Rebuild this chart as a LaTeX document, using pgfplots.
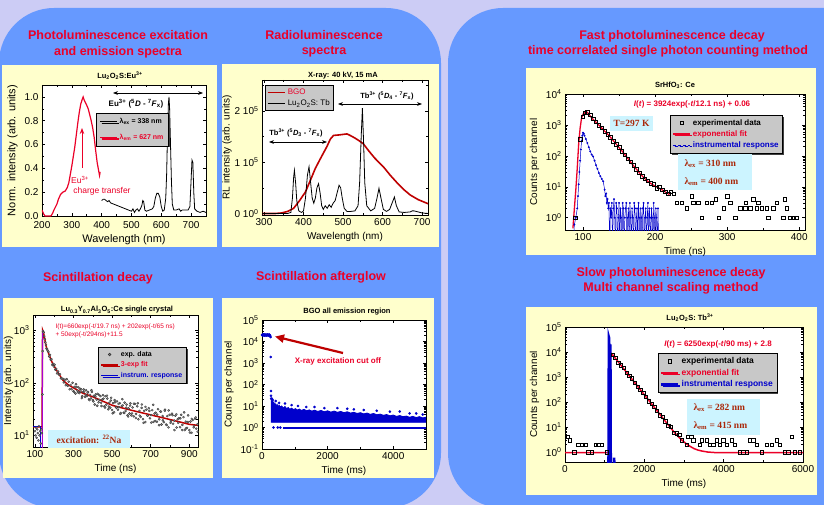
\documentclass[border=0pt]{standalone}
\usepackage{pgfplots}
\pgfplotsset{compat=1.18}
\usepackage{fontspec}
\setmainfont{Liberation Sans}
\newfontfamily\tnr{Liberation Serif}
\usetikzlibrary{shadows,arrows.meta}
\definecolor{lav}{RGB}{204,204,245}
\definecolor{pblue}{RGB}{102,153,255}
\definecolor{pyel}{RGB}{255,255,204}
\definecolor{tred}{RGB}{235,0,40}
\definecolor{cyanbox}{RGB}{204,244,255}
\definecolor{legray}{RGB}{200,200,200}
\definecolor{dred}{RGB}{170,40,10}
\definecolor{dblue}{RGB}{0,0,204}
\definecolor{fitred}{RGB}{190,0,0}
\definecolor{purp}{RGB}{170,0,210}
\pgfplotsset{
  base/.style={
    scale only axis, anchor=south west,
    axis line style={line width=0.8pt},
    tick style={black, line width=0.5pt},
    major tick length=3pt, minor tick length=1.6pt,
    tick label style={font=\fontsize{10}{11}\selectfont},
    label style={font=\fontsize{10}{11}\selectfont},
    axis background/.style={fill=white},
    /pgf/number format/assume math mode=true,
    /pgf/number format/1000 sep={},
    legend cell align=left,
  },
  lstyle/.style={fill=legray, draw=black, line width=0.6pt, inner sep=2pt, row sep=0pt,
    drop shadow={shadow xshift=1.5pt, shadow yshift=-1.5pt, fill=black!75, opacity=1}},
}
\newcommand{\ttl}{\fontsize{12.5}{14}\selectfont\bfseries\color{tred}}
\newcommand{\stl}{\fontsize{7.5}{9}\selectfont\bfseries}
\newcommand{\cbx}{\tnr\fontsize{9.5}{11}\selectfont\bfseries\color{dred}}
\begin{document}
\begin{tikzpicture}
\path[use as bounding box] (0,0) rectangle (824pt,-505pt);
\clip (0,0) rectangle (824pt,-505pt);
\fill[lav] (0,0) rectangle (824pt,-505pt);
\fill[pblue, rounded corners=55pt] (-1pt,-8pt) rectangle (441pt,-508pt);
\fill[pblue, rounded corners=55pt] (448pt,-8pt) rectangle (900pt,-508pt);
% yellow boxes
\fill[pyel] (2pt,-65pt) rectangle (217pt,-247pt);
\fill[pyel] (222pt,-64pt) rectangle (439pt,-247pt);
\fill[pyel] (526pt,-68pt) rectangle (816pt,-255pt);
\fill[pyel] (3pt,-298pt) rectangle (213pt,-478pt);
\fill[pyel] (222pt,-298pt) rectangle (434pt,-478pt);
\fill[pyel] (526pt,-307pt) rectangle (817pt,-495pt);
% panel titles
\node[font=\ttl] at (118pt,-35pt) {Photoluminescence excitation};
\node[font=\ttl] at (118pt,-52pt) {and emission spectra};
\node[font=\ttl] at (324pt,-35pt) {Radioluminescence};
\node[font=\ttl] at (324pt,-52pt) {spectra};
\node[font=\ttl] at (672pt,-36pt) {Fast photoluminescence decay};
\node[font=\ttl] at (668pt,-51pt) {time correlated single photon counting method};
\node[font=\ttl] at (98pt,-278pt) {Scintillation decay};
\node[font=\ttl] at (321pt,-277pt) {Scintillation afterglow};
\node[font=\ttl] at (671pt,-273pt) {Slow photoluminescence decay};
\node[font=\ttl] at (671pt,-288pt) {Multi channel scaling method};

% ---------------- Panel 1
\begin{axis}[base, at={(42pt,-216pt)}, width=164pt, height=131pt,
  xmin=200, xmax=750, ymin=0, ymax=1.1,
  xtick={200,300,400,500,600,700}, minor x tick num=1,
  ytick={0,0.2,0.4,0.6,0.8,1.0}, minor y tick num=1,
  yticklabel style={/pgf/number format/.cd,fixed,fixed zerofill,precision=1},
  xticklabel style={yshift=-1.5pt},
  label style={font=\fontsize{11}{12}\selectfont},
  xlabel={Wavelength (nm)}, ylabel={Norm. intensity (arb. units)},
  legend style={lstyle, at={(0.33,0.786)}, anchor=north west, font=\fontsize{7}{8}\selectfont\bfseries, row sep=5pt, inner sep=3pt}]
\addplot[tred, line width=1.2pt, forget plot] coordinates {
(200,0.05) (205,0.02) (210,0.0) (220,0.0) (230,0.0) (235,0.02) (240,0.05) (250,0.1) (255,0.14) (262,0.18)
(270,0.2) (278,0.21) (285,0.24) (290,0.28) (295,0.35) (300,0.42) (305,0.5) (310,0.58) (315,0.68) (320,0.78)
(325,0.87) (330,0.94) (335,0.98) (338,1.0) (342,0.97) (346,0.95) (350,0.93) (355,0.9) (360,0.85) (365,0.8)
(370,0.74) (375,0.66) (380,0.55) (385,0.45) (390,0.38) (393,0.34) (395,0.37)};
\addplot[black, line width=0.8pt, forget plot] coordinates {
(400,0.13) (405,0.14) (410,0.14) (415,0.13) (420,0.12) (425,0.13) (430,0.11) (440,0.1) (450,0.09) (460,0.08)
(470,0.07) (480,0.06) (490,0.05) (500,0.04) (505,0.06) (510,0.03) (515,0.05) (520,0.06) (525,0.04) (530,0.06)
(535,0.09) (538,0.13) (541,0.12) (545,0.05) (550,0.04) (560,0.05) (570,0.06) (575,0.08) (580,0.15) (585,0.19)
(590,0.19) (595,0.16) (600,0.08) (605,0.04) (610,0.05) (615,0.15) (618,0.35) (621,0.7) (624,0.95) (626,1.0)
(628,0.9) (631,0.6) (634,0.3) (637,0.1) (642,0.05) (650,0.05) (660,0.06) (665,0.04) (670,0.05) (680,0.05)
(690,0.05) (696,0.08) (700,0.3) (703,0.47) (706,0.45) (709,0.2) (712,0.06) (720,0.04) (730,0.03) (740,0.04) (750,0.03)};
\addlegendimage{black, line width=0.8pt}
\addlegendentry{λ\textsubscript{ex} = 338 nm}
\addlegendimage{tred, line width=1.2pt}
\addlegendentry{\textcolor{tred}{λ\textsubscript{em} = 627 nm}}
\end{axis}
\node[font=\stl] at (120pt,-76pt) {Lu\textsubscript{2}O\textsubscript{2}S:Eu\textsuperscript{3+}};
\draw[{Stealth[length=5pt]}-{Stealth[length=5pt]}, line width=0.7pt] (113pt,-93pt) -- (203pt,-93pt);
\node[font=\fontsize{8}{9}\selectfont\bfseries] at (136pt,-104pt) {Eu\textsuperscript{3+} (\textsuperscript{5}\textit{D} - \textsuperscript{7}\textit{F}\textsubscript{x})};
\draw[-{Stealth[length=6pt]}, tred, line width=1pt] (82pt,-168pt) -- (82pt,-128pt);
\node[font=\fontsize{8.5}{10}\selectfont, tred] at (80pt,-180pt) {Eu\textsuperscript{3+}};
\node[font=\fontsize{8.5}{10}\selectfont, tred] at (102pt,-191pt) {charge transfer};

% ---------------- Panel 2
\begin{axis}[base, at={(262pt,-215pt)}, width=166pt, height=135pt,
  xmin=295, xmax=715, ymin=-3000, ymax=260000,
  xtick={300,400,500,600,700}, minor x tick num=1,
  ytick={0,100000,200000}, minor ytick={50000,150000,250000},
  yticklabels={0 10\textsuperscript{0},1 10\textsuperscript{5},2 10\textsuperscript{5}},
  scaled y ticks=false, ylabel shift=-4pt,
  xlabel={Wavelength (nm)}, ylabel={RL intensity (arb. units)},
  legend style={fill=legray, draw=black, line width=0.6pt, at={(0.02,0.963)}, anchor=north west, font=\fontsize{8}{9}\selectfont, inner sep=1.5pt, row sep=0pt}]
\addplot[fitred, line width=1.6pt, forget plot] coordinates {
(295,0) (330,0) (345,1000) (360,4000) (375,10000) (390,25000) (405,42000) (416,62000) (430,88000) (445,110000)
(459,130000) (468,145000) (476,152000) (490,153000) (500,154000) (510,155000) (518,152000) (530,147000) (540,142000)
(551,136000) (565,122000) (580,108000) (602,91000) (620,74000) (640,57000) (653,47000) (670,36000) (690,27000) (715,19000)};
\addplot[black, line width=0.8pt, forget plot] coordinates {
(295,0) (360,0) (368,2000) (372,30000) (375,70000) (377,84000) (380,60000) (383,25000) (388,5000) (395,2000)
(400,5000) (405,30000) (410,75000) (414,91000) (418,60000) (422,30000) (426,20000) (430,30000) (434,50000) (438,58000)
(442,40000) (446,15000) (450,8000) (455,15000) (460,10000) (465,17000) (470,12000) (475,20000) (480,25000) (485,40000)
(490,55000) (494,50000) (498,30000) (503,10000) (510,4000) (520,4000) (530,5000) (538,15000) (542,60000) (546,150000)
(549,205000) (552,140000) (555,60000) (560,15000) (570,5000) (580,10000) (586,30000) (591,49000) (596,30000) (602,8000)
(610,4000) (618,8000) (624,20000) (630,32000) (635,15000) (642,3000) (655,2000) (670,3000) (675,5000) (680,5000)
(690,3000) (700,1000) (715,0)};
\addlegendimage{fitred, line width=1.6pt}
\addlegendentry{\textcolor{tred}{BGO}}
\addlegendimage{black, line width=0.8pt}
\addlegendentry{Lu\textsubscript{2}O\textsubscript{2}S: Tb}
\end{axis}
\node[font=\stl] at (343pt,-76pt) {X-ray: 40 kV, 15 mA};
\draw[{Stealth[length=5pt]}-{Stealth[length=5pt]}, line width=0.7pt] (338pt,-104pt) -- (422pt,-104pt);
\node[font=\fontsize{7.5}{9}\selectfont\bfseries] at (387pt,-96pt) {Tb\textsuperscript{3+} (\textsuperscript{5}\textit{D}\textsubscript{4} - \textsuperscript{7}\textit{F}\textsubscript{x})};
\draw[{Stealth[length=5pt]}-{Stealth[length=5pt]}, line width=0.7pt] (269pt,-142pt) -- (327pt,-142pt);
\node[font=\fontsize{7.5}{9}\selectfont\bfseries] at (296pt,-133pt) {Tb\textsuperscript{3+} (\textsuperscript{5}\textit{D}\textsubscript{3} - \textsuperscript{7}\textit{F}\textsubscript{x})};

% ---------------- Panel 3
\begin{axis}[base, at={(565pt,-230pt)}, width=240pt, height=136pt, ymode=log,
  xmin=75, xmax=408, ymin=0.4, ymax=10000,
  xtick={100,200,300,400}, minor x tick num=1,
  ytick={1,10,100,1000,10000},
  yticklabels={10\textsuperscript{0},10\textsuperscript{1},10\textsuperscript{2},10\textsuperscript{3},10\textsuperscript{4}},
  xlabel={Time (ns)}, ylabel={Counts per channel},
  legend style={lstyle, at={(0.4375,0.846)}, anchor=north west, font=\fontsize{8}{9}\selectfont\bfseries}]
\addplot[dblue, line width=0.5pt, mark=*, mark size=0.7pt, forget plot] coordinates {
(86,0.1) (88,0.6) (90,1) (92,2) (93,5) (94,12) (95,30) (96,70) (97,160) (98,300) (99,450) (100,560) (101,520) (102,450)
(104,350) (106,260) (108,190) (110,140) (112,110) (114,95) (116,70) (118,50) (120,38) (122,28) (124,22) (126,18) (128,15)
(130,8) (131,5) (132,6) (133,3) (134,4) (135,2) (136,3) (137,0.1) (138,2) (139,1) (140,3) (141,0.1) (142,2) (143,4)
(144,1) (145,0.1) (146,3) (147,2) (148,0.1) (149,1) (150,3) (151,0.1) (152,2) (153,1) (154,0.1) (155,3) (156,2)
(157,0.1) (158,1) (159,2) (160,3) (161,0.1) (162,1) (163,2) (164,0.1) (165,3) (166,1) (167,0.1) (168,2) (169,1)
(170,0.1) (171,3) (172,2) (173,0.1) (174,1) (175,2) (176,0.1) (177,3) (178,1) (179,0.1) (180,2) (181,1) (182,0.1)
(183,2) (184,3) (185,0.1) (186,1) (187,2) (188,0.1) (189,1) (190,3) (191,0.1) (192,2) (193,1) (194,0.1) (195,2)
(196,1) (197,0.1) (198,3) (199,1) (200,0.1) (201,2) (202,1) (203,0.1) (204,2) (205,0.1)};
\addplot[tred, line width=1.3pt, forget plot] coordinates {
(86,0.45) (88,2) (90,8) (92,40) (94,250) (96,800) (98,1700) (100,2200) (102,2450) (104,2600) (106,2550) (108,2240)
(112,1700) (116,1350) (120,1100) (125,830) (130,630) (135,480) (140,355) (145,257) (150,186) (155,135) (160,95)
(165,68) (170,48) (175,35) (180,25) (185,19) (190,15) (195,12.3) (200,10.5) (205,9.1) (210,7.9) (215,6.6) (220,5.6)};
\addplot[only marks, mark=square, mark size=1.7pt, black, mark options={line width=0.5pt}, forget plot] coordinates {
(89,1) (96,340) (100,1800) (102,2500) (106,2600) (110,2100) (114,1600) (118,1250) (122,980) (126,800) (130,620)
(134,500) (138,400) (142,300) (146,240) (150,190) (154,140) (158,110) (162,82) (166,64) (170,50) (174,37) (178,29)
(182,22) (186,18) (190,16) (194,13) (198,12) (202,9) (206,10) (210,8) (214,7) (218,6) (222,7)
(226,6) (230,3) (237,3) (244,2) (251,5) (253,3) (260,3) (265,1) (272,3) (279,3) (284,4) (288,1) (295,2) (300,5)
(304,3) (311,1) (318,2) (325,2) (326,3) (332,2) (336,4) (341,2) (343,3) (348,2) (355,2) (357,1) (364,2) (369,3)
(378,1) (380,4) (383,2) (387,1) (392,1) (396,1)};
\addlegendimage{only marks, mark=square, mark size=1.7pt, black}
\addlegendentry{experimental data}
\addlegendimage{tred, line width=1.5pt}
\addlegendentry{\textcolor{tred}{exponential fit}}
\addlegendimage{dblue, densely dashed, line width=1pt}
\addlegendentry{\textcolor{dblue}{instrumental response}}
\end{axis}
\node[font=\stl] at (675pt,-85pt) {SrHfO\textsubscript{3}: Ce};
\node[font=\fontsize{8}{9}\selectfont\bfseries, tred] at (692pt,-104pt) {\textit{I}(\textit{t}) = 3924exp(-\textit{t}/12.1 ns) + 0.06};
\node[fill=cyanbox, minimum width=43pt, minimum height=15pt, inner sep=0pt, font=\cbx] at (631.5pt,-123.5pt) {T=297 K};
\fill[cyanbox] (678pt,-154pt) rectangle (752pt,-190pt);
\node[anchor=west, font=\cbx] at (681pt,-164pt) {λ\textsubscript{ex} = 310 nm};
\node[anchor=west, font=\cbx] at (681pt,-182pt) {λ\textsubscript{em} = 400 nm};

% ---------------- Panel 4
\begin{axis}[base, at={(33pt,-447pt)}, width=165pt, height=132pt, ymode=log,
  xmin=90, xmax=945, ymin=6, ymax=1950,
  xtick={100,300,500,700,900}, minor xtick={200,400,600,800},
  ytick={10,100,1000},
  yticklabels={10\textsuperscript{1},10\textsuperscript{2},10\textsuperscript{3}},
  ylabel shift=-6pt,
  xlabel={Time (ns)}, ylabel={Intensity (arb. units)},
  legend style={lstyle, at={(0.394,0.758)}, anchor=north west, font=\fontsize{7}{8}\selectfont\bfseries}]
\addplot[only marks, mark=*, mark size=1.1pt, mark options={fill=black!45, draw=black!80, line width=0.3pt}, forget plot] coordinates {
(100,12) (103,10) (106,14) (109,9) (112,13) (115,11) (118,8) (121,15) (124,10) (127,12) (130,7) (133,13) (136,11)
(139,60) (140,400)
(142,955) (145,912) (148,776) (151,676) (154,589) (157,525) (160,447) (163,437) (166,407) (170,389) (174,316) (178,339)
(182,275) (186,282) (190,219) (194,229) (198,204) (202,221) (206,178) (210,184) (215,151) (220,164) (225,143) (230,146)
(235,122) (240,120) (245,119) (250,102) (255,115) (260,90) (265,117) (270,88) (275,105) (280,75.5) (285,90.8) (290,75.5)
(295,100) (300,69) (305,83) (310,62.5) (315,82.8) (320,70.5) (325,82.4) (330,63.7) (335,67.6) (340,74.8) (345,55.5)
(350,66.7) (355,67.5) (360,54) (365,72) (370,56) (375,66.8) (380,48.5) (385,58.7) (390,50.4) (395,67.1) (400,46.8)
(405,56.1) (410,38.7) (415,60) (420,47.9) (425,61.5) (430,42.5) (435,47.2) (440,55.8) (445,36.2) (450,48.5) (455,49.8)
(460,35.8) (465,55.5) (470,38.3) (475,50.2) (480,31.3) (485,41.9) (490,33.5) (495,51.9) (500,30.3) (505,41) (510,27.4)
(515,42.7) (520,34.2) (525,44.3) (530,30.8) (535,34.4) (540,40.9) (545,26.7) (550,36.1) (555,37.2) (560,26.9) (565,41.9)
(570,29.1) (575,38.5) (580,24.1) (585,32.5) (590,26.1) (595,40.7) (600,24) (606,34) (612,23) (618,39.6) (624,25.5)
(630,35.7) (636,20.2) (642,29.2) (648,22.4) (654,38.6) (660,20.3) (666,29.3) (672,17.9) (678,30.8) (684,23.7) (690,32.9)
(696,21.1) (702,24.3) (708,30.2) (714,18) (720,26) (726,27) (732,18.2) (738,31.5) (744,20.2) (750,28.4) (756,16.1)
(762,23.3) (768,17.8) (774,30.8) (780,16.1) (786,23.3) (792,14.2) (798,24.5) (804,18.8) (810,25.8) (816,16.6) (822,19.1)
(828,23.7) (834,14.1) (840,20.3) (846,21.1) (852,14.3) (858,24.6) (864,15.8) (870,22.2) (876,12.6) (882,18.2) (888,13.9)
(894,24) (900,12.6) (906,18.3) (912,11.2) (918,19.5) (924,15.1) (930,20.8) (936,13.4) (942,16.3)
(303,66.8) (313,93.8) (323,65.9) (333,77.6) (343,51.2) (353,74.6) (363,58.6) (373,64.6) (383,46.8) (393,72.3) (403,44.2)
(413,54.8) (423,36.6) (433,58.5) (443,41.8) (453,58.2) (463,33.9) (473,56.8) (483,35.3) (493,45.9) (503,26.3) (513,46.8)
(523,33.8) (533,39.7) (543,25.6) (553,48.8) (563,26.7) (573,33.7) (583,22.8) (593,36.9) (603,26.2) (613,40.1) (623,21.4)
(633,40.7) (643,23.7) (653,33.3) (663,17.3) (673,34.8) (683,23.8) (693,29.2) (703,17.5) (713,38.1) (723,18.7) (733,24.8)
(743,15.6) (753,28.2) (763,19.3) (773,29.4) (783,15.7) (793,29.8) (803,17.3) (813,24.2) (823,12.6) (833,25.2) (843,17.3)
(853,21.1) (863,12.6) (873,27.4) (883,13.5) (893,17.9) (903,11.3) (913,20.5) (923,14.2) (933,21.9) (943,11.7)};
\addplot[fitred, line width=1.5pt, forget plot] coordinates {
(90,14.5) (137,14.5) (139,600) (140,1000) (145,891) (150,708) (155,562) (160,468) (167,398) (180,295) (190,240)
(207,186) (225,145) (245,112) (270,93) (305,78) (350,63) (400,54) (450,45) (503,37) (600,30) (710,24) (800,20)
(900,16.2) (945,15.5)};
\addplot[dblue, line width=0.9pt, forget plot] coordinates {(92,14.5) (131,14.5) (131,1)};
\addplot[purp, line width=1pt, forget plot] coordinates {(138,1) (139.5,1000)};
\addlegendimage{only marks, mark=*, mark size=1.3pt, mark options={fill=black!45, draw=black!80}}
\addlegendentry{exp. data}
\addlegendimage{fitred, line width=1.5pt}
\addlegendentry{\textcolor{tred}{3-exp fit}}
\addlegendimage{dblue, line width=1pt}
\addlegendentry{\textcolor{dblue}{instrum. response}}
\end{axis}
\node[font=\stl] at (117pt,-310pt) {Lu\textsubscript{0.3}Y\textsubscript{0.7}Al\textsubscript{3}O\textsubscript{5}:Ce single crystal};
\node[anchor=west, font=\fontsize{6.5}{7.5}\selectfont, tred] at (52pt,-327pt) {I(t)=660exp(-t/19.7 ns) + 202exp(-t/65 ns)};
\node[anchor=west, font=\fontsize{6.5}{7.5}\selectfont, tred] at (52pt,-335pt) {+ 50exp(-t/294ns)+11.5};
\fill[cyanbox] (48pt,-430pt) rectangle (130pt,-448pt);
\node[font=\cbx] at (89pt,-439pt) {excitation: \textsuperscript{22}Na};

% ---------------- Panel 5
\begin{axis}[base, at={(262pt,-449pt)}, width=164pt, height=129pt, ymode=log,
  xmin=0, xmax=5000, ymin=0.1, ymax=100000,
  xtick={0,2000,4000}, minor xtick={1000,3000,5000},
  ytick={0.1,1,10,100,1000,10000,100000},
  yticklabels={10\textsuperscript{-1},10\textsuperscript{0},10\textsuperscript{1},10\textsuperscript{2},10\textsuperscript{3},10\textsuperscript{4},10\textsuperscript{5}},
  xlabel={Time (ms)}, ylabel={Counts per channel}]
\addplot[fill=dblue, draw=dblue, line width=0.8pt] coordinates {
(285,1.75) (285,18) (300,14) (320,16) (340,12) (360,15) (380,11) (400,13) (430,10) (460,12) (490,9) (520,11) (560,9)
(600,10) (650,8) (700,9.5) (750,7.5) (800,8.5) (850,7) (900,8) (960,6.8) (1020,7.5) (1080,6.5) (1140,7.2) (1200,6.2)
(1280,7) (1360,6) (1440,6.6) (1520,5.8) (1600,6.4) (1700,5.6) (1800,6.2) (1900,5.4) (2000,6) (2100,5.2) (2200,5.8)
(2300,5.1) (2400,5.6) (2500,4.9) (2600,5.4) (2700,4.7) (2800,5.1) (2900,4.5) (3000,4.9) (3100,4.3) (3200,4.7) (3300,4.1)
(3400,4.5) (3500,3.9) (3600,4.2) (3700,3.7) (3800,4) (3900,3.5) (4000,3.8) (4100,3.3) (4200,3.6) (4300,3.2) (4400,3.4)
(4500,3.0) (4600,3.3) (4700,2.9) (4800,3.2) (4900,2.8) (5000,3.0) (5000,1.75)} -- cycle;
\addplot[dblue, line width=2pt] coordinates {(650,1) (5000,1)};
\addplot[only marks, mark=*, mark size=1.1pt, dblue] coordinates {
(0,20000) (10,21000) (20,19000) (30,20500) (40,21500) (50,19500) (60,20000) (70,21000) (80,19000) (90,20500) (100,20000)
(110,19500) (120,21000) (130,20000) (140,19000) (150,20500) (160,21000) (170,19500) (180,20000) (190,20500) (200,19000)
(210,20000) (220,21000) (230,19500) (240,20000) (250,18000) (262,16000) (268,1900) (272,50) (276,30) (280,22)
(300,22) (330,19) (420,17) (520,14) (700,13) (900,11) (1100,10) (1350,9) (1600,9) (1900,8) (2300,8) (2600,7.5)
(2800,7) (3100,6.5) (3500,6) (3900,5.5) (4200,5.5) (4500,4.5) (4700,4.5) (4900,4) (350,1) (480,1) (560,1)};
\end{axis}
\node[font=\stl] at (347pt,-312pt) {BGO all emission region};
\draw[-{Triangle[length=9pt,width=8pt]}, line width=2.2pt, fitred] (343pt,-353pt) -- (275pt,-336.5pt);
\node[font=\fontsize{8}{9}\selectfont\bfseries, tred] at (338pt,-361pt) {X-ray excitation cut off};

% ---------------- Panel 6
\begin{axis}[base, at={(565pt,-462pt)}, width=238pt, height=135pt, ymode=log,
  xmin=0, xmax=6000, ymin=0.4, ymax=100000,
  xtick={0,2000,4000,6000}, minor xtick={1000,3000,5000},
  ytick={1,10,100,1000,10000,100000},
  yticklabels={10\textsuperscript{0},10\textsuperscript{1},10\textsuperscript{2},10\textsuperscript{3},10\textsuperscript{4},10\textsuperscript{5}},
  xlabel={Time (ms)}, ylabel={Counts per channel},
  legend style={lstyle, at={(0.39,0.807)}, anchor=north west, font=\fontsize{8.5}{9.5}\selectfont\bfseries}]
\addplot[tred, line width=1.5pt, forget plot] coordinates {
(0,0.95) (1100,0.95) (1150,8900) (1170,8900) (1250,6170) (1350,3890) (1450,2455) (1550,1550) (1650,977) (1750,617)
(1850,389) (1950,245) (2050,155) (2150,98) (2250,62) (2350,39) (2450,24.5) (2550,15.5) (2650,9.8) (2750,6.3) (2850,4.27)
(2950,2.95) (3050,2.19) (3150,1.7) (3250,1.38) (3350,1.2) (3450,1.1) (3600,1.0) (3800,0.95) (6000,0.95)};
\addplot[dblue, line width=2.5pt, forget plot] coordinates {
(1085,0.1) (1095,0.1) (1105,40000) (1115,35000) (1125,0.1) (1135,0.1) (1145,20000) (1155,0.1) (1230,0.1) (1240,0.6) (1250,0.1)};
\addplot[only marks, mark=square, mark size=1.7pt, black, mark options={line width=0.5pt}, forget plot] coordinates {
(67,4) (120,3) (235,1) (336,2) (420,2) (520,2) (588,1) (672,1) (772,2) (840,2) (924,2) (1050,1)
(1200,7760) (1270,5890) (1340,3800) (1410,2950) (1480,2290) (1550,1480) (1620,1120) (1690,891) (1760,589) (1830,398)
(1900,309) (1970,240) (2040,162) (2110,107) (2180,85) (2250,66) (2320,45) (2390,29.5) (2460,26) (2530,17) (2600,11)
(2670,10) (2740,6) (2810,5.6) (2880,5) (2950,3)
(3067,2) (3100,4) (3180,4) (3235,3) (3403,2) (3445,3) (3571,3) (3655,2) (3739,2) (3823,3) (3907,2) (3991,3) (4075,2)
(4201,3) (4285,2) (4411,1) (4495,1) (4579,1) (4663,3) (4747,3) (4831,2) (4957,1) (5084,2) (5210,2) (5336,3) (5420,2)
(5546,1) (5630,1) (5714,4) (5798,1) (5924,1)};
\addlegendimage{only marks, mark=square, mark size=1.7pt, black}
\addlegendentry{experimental data}
\addlegendimage{tred, line width=1.5pt}
\addlegendentry{\textcolor{tred}{exponential fit}}
\addlegendimage{dblue, line width=2.5pt}
\addlegendentry{\textcolor{dblue}{instrumental response}}
\end{axis}
\node[font=\stl] at (690pt,-318pt) {Lu\textsubscript{2}O\textsubscript{2}S: Tb\textsuperscript{3+}};
\node[font=\fontsize{8}{9}\selectfont\bfseries, tred] at (718pt,-344pt) {\textit{I}(\textit{t}) = 6250exp(-\textit{t}/90 ms) + 2.8};
\fill[cyanbox] (687pt,-399pt) rectangle (760pt,-435pt);
\node[anchor=west, font=\cbx] at (690pt,-408pt) {λ\textsubscript{ex} = 282 nm};
\node[anchor=west, font=\cbx] at (690pt,-426pt) {λ\textsubscript{em} = 415 nm};
\end{tikzpicture}
\end{document}
